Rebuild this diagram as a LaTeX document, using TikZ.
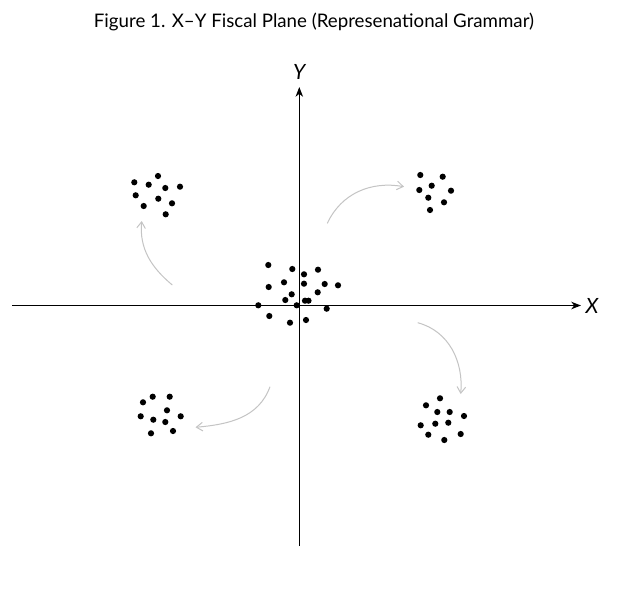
\documentclass[tikz,border=0pt]{standalone}
\usepackage{fontspec}
\setmainfont{Lato}
\usepackage{tikz}
\usetikzlibrary{arrows.meta,positioning,calc}
\definecolor{flowgrey}{RGB}{196,196,196}
\tikzset{
  axisline/.style={-{Stealth[length=3.4mm,width=2.6mm,inset=1mm]},line width=1.5pt},
  flowarrow/.style={-{Straight Barb[length=2.2mm,width=3mm]},line width=1pt,draw=flowgrey},
  axislabel/.style={font=\fontsize{21}{23}\selectfont\itshape},
  dotr/.style={radius=3.1pt}
}

\begin{document}
\begin{tikzpicture}[x=1pt,y=-1pt]
  \useasboundingbox[fill=white] (0,0) rectangle (627,598);
  \node[font=\fontsize{18.7}{21}\selectfont] (title) at (314,22) {Figure 1. X\textendash Y Fiscal Plane (Represenational Grammar)};
  % axes
  \coordinate (xl) at (12,305.5);
  \coordinate (xr) at (581,305.5);
  \coordinate (yb) at (299.3,546);
  \coordinate (yt) at (299.3,87);
  \draw[axisline] (xl)--(xr);
  \draw[axisline] (yb)--(yt);
  \node[axislabel,right=1pt of xr] (xlab) {X};
  \node[axislabel,above=4pt of yt] (ylab) {Y};
  % centre cluster
  \foreach \x/\y in {268.3/265,292.3/269,304/274.3,318/269.7,268.7/287,284/282.3,304/283.7,
    324.7/284,338/285.3,291.7/294.3,317.7/292.3,285.3/300,305/300.7,308.5/300.7,258.3/305.3,
    296.7/305.3,326.7/308.7,269.3/316,290/322.7,306/320}
    \fill (\x,\y) circle[dotr];
  % upper left
  \foreach \x/\y in {134.3/182.3,158/176,148.7/184.7,165.3/188,180/186.7,135.7/195.3,
    158.3/198.7,172/203.3,143.7/206,165.7/214.3}
    \fill (\x,\y) circle[dotr];
  % upper right
  \foreach \x/\y in {420.3/175,442.7/176.7,431.7/185.7,419.3/190,451/190.7,428.3/197.7,
    444/202.3,430/210}
    \fill (\x,\y) circle[dotr];
  % lower left
  \foreach \x/\y in {152.7/396.7,169.7/396.7,143/402.3,167/410.3,140.7/416.3,153.3/419.7,
    165.3/422,180.7/416.3,151/433.3,173/431}
    \fill (\x,\y) circle[dotr];
  % lower right
  \foreach \x/\y in {440/398.3,426/405.3,437.3/412,449.7/412,464/416,420.7/425.3,
    435.3/423.7,448.3/422.7,428.3/434.7,460.7/434,444.3/440}
    \fill (\x,\y) circle[dotr];
  % flows
  \coordinate (ulS) at (172.3,285);
  \coordinate (ulE) at (141.7,221);
  \coordinate (urS) at (327.3,223.3);
  \coordinate (urE) at (404,186.7);
  \coordinate (lrS) at (417.7,322.7);
  \coordinate (lrE) at (460.7,394);
  \coordinate (llS) at (270,386.7);
  \coordinate (llE) at (195.5,427.3);
  \draw[flowarrow] (ulS) to[out=140,in=-95] (ulE);
  \draw[flowarrow] (urS) to[out=65,in=170] (urE);
  \draw[flowarrow] (lrS) to[out=-15,in=85] (lrE);
  \draw[flowarrow] (llS) to[out=-110,in=5] (llE);
\end{tikzpicture}
\end{document}
